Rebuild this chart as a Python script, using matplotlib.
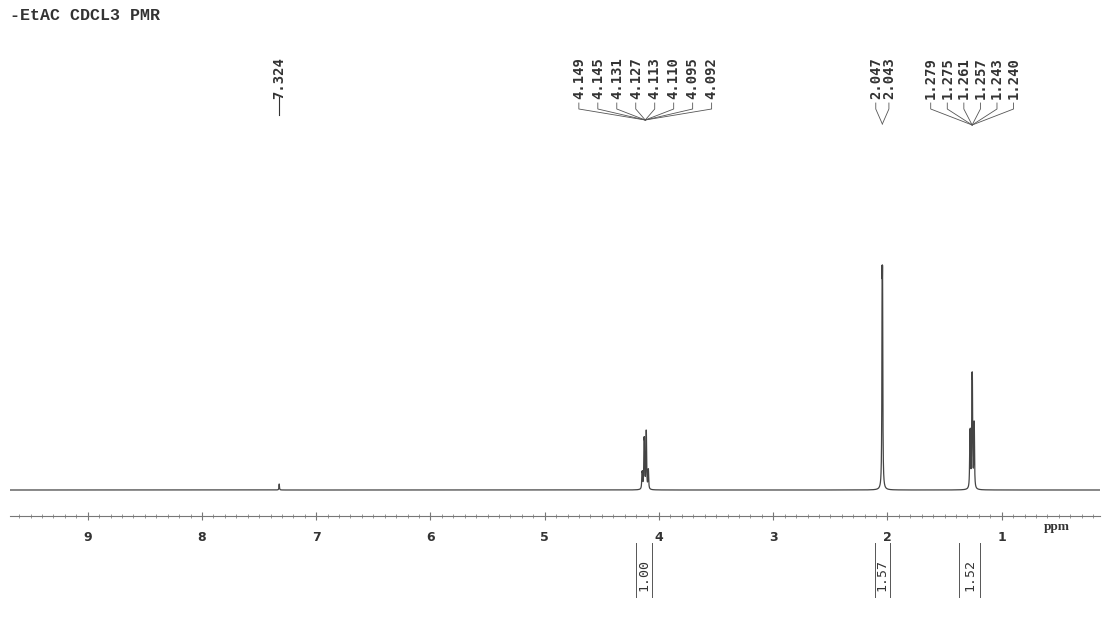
import numpy as np
import matplotlib
matplotlib.use('Agg')
import matplotlib.pyplot as plt
import matplotlib.transforms as mtransforms
from matplotlib.ticker import MultipleLocator

# peak lists (ppm) with relative line intensities
chcl3_ppm = [7.324]
chcl3_rel = [1]
quartet_ppm = [4.149, 4.145, 4.131, 4.127, 4.113, 4.110, 4.095, 4.092]
quartet_rel = [1, 1, 3, 3, 3, 3, 1, 1]
singlet_ppm = [2.047, 2.043]
singlet_rel = [1, 1]
triplet_ppm = [1.279, 1.275, 1.261, 1.257, 1.243, 1.240]
triplet_rel = [1, 1, 2, 2, 1, 1]

# tallest point of each multiplet (plot units)
group_heights = [6, 60, 225, 118]

# integrals
integral_values = ['1.00', '1.57', '1.52']
integral_ranges = [(4.20, 4.06), (2.11, 1.98), (1.37, 1.19)]

ppm_ticks = [1, 2, 3, 4, 5, 6, 7, 8, 9]

W, H = 1118, 627
fig = plt.figure(figsize=(W / 100, H / 100), dpi=100)
ax = fig.add_axes([10 / W, (H - 516) / H, 1090 / W, 516 / H])
ax.set_xlim(9.68, 0.14)
ax.set_ylim(-26, 490)

ink = '#333333'

x = np.linspace(9.68, 0.14, 40000)
y = np.zeros_like(x)
hw = 0.0025
groups = [(chcl3_ppm, chcl3_rel), (quartet_ppm, quartet_rel),
          (singlet_ppm, singlet_rel), (triplet_ppm, triplet_rel)]
for (pos, rel), top in zip(groups, group_heights):
    g = np.zeros_like(x)
    for p, r in zip(pos, rel):
        g += r * hw ** 2 / ((x - p) ** 2 + hw ** 2)
    y += g * top / g.max()
ax.plot(x, y, color='#444444', lw=0.9)

for s in ['top', 'left', 'right']:
    ax.spines[s].set_visible(False)
ax.spines['bottom'].set_color('#777777')
ax.spines['bottom'].set_linewidth(0.8)
ax.set_yticks([])
ax.xaxis.set_major_locator(MultipleLocator(1))
ax.xaxis.set_minor_locator(MultipleLocator(0.1))
ax.set_xticks(ppm_ticks)
ax.set_xticklabels([str(t) for t in ppm_ticks])
ax.tick_params(axis='x', which='major', direction='inout', length=6, width=0.8,
               color='#777777', pad=8, labelsize=9, labelcolor=ink)
ax.tick_params(axis='x', which='minor', direction='inout', length=2.5, width=0.6,
               color='#888888')
for lbl in ax.get_xticklabels():
    lbl.set_fontweight('bold')

# blended: x in ppm, y in figure fraction measured from the top in pixels
tr = mtransforms.blended_transform_factory(ax.transData, fig.transFigure)
def fy(py):
    return 1 - py / H

fig.text(1057 / W, fy(527), 'ppm', ha='center', va='center', fontsize=9.5,
         family='Liberation Serif', fontweight='bold', color=ink)
fig.text(10 / W, fy(15), '-EtAC CDCL3 PMR', ha='left', va='center', fontsize=12,
         family='Liberation Mono', fontweight='bold', color=ink)

# peak-pick labels with fan leads
def peak_labels(positions, spacing, converge_y):
    n = len(positions)
    center = np.mean(positions)
    xs = [center + spacing * ((n - 1) / 2 - i) for i in range(n)]
    for xl, p in zip(xs, positions):
        ax.text(xl, fy(99), f'{p:.3f}', transform=tr, rotation=90, ha='center',
                va='bottom', fontsize=10, family='DejaVu Sans Mono',
                fontweight='bold', color=ink)
        if n == 1:
            ax.plot([xl, xl], [fy(97), fy(115)], transform=tr, color=ink, lw=0.8,
                    clip_on=False)
        else:
            ax.plot([xl, xl, center], [fy(103), fy(109), fy(converge_y)],
                    transform=tr, color='#555555', lw=0.6, clip_on=False)

peak_labels(chcl3_ppm, 0.0, 115)
peak_labels(quartet_ppm, 0.166, 120)
peak_labels(singlet_ppm, 0.115, 124)
peak_labels(triplet_ppm, 0.145, 125)

# integral brackets under the axis
for val, (a, b) in zip(integral_values, integral_ranges):
    for xe in (a, b):
        ax.plot([xe, xe], [fy(543), fy(597)], transform=tr, color='#555555',
                lw=0.7, clip_on=False)
    ax.text((a + b) / 2, fy(575), val, transform=tr, rotation=90, ha='center',
            va='center', fontsize=9.5, family='DejaVu Sans Mono', color=ink)

fig.savefig('out.png', dpi=100, facecolor='white')
